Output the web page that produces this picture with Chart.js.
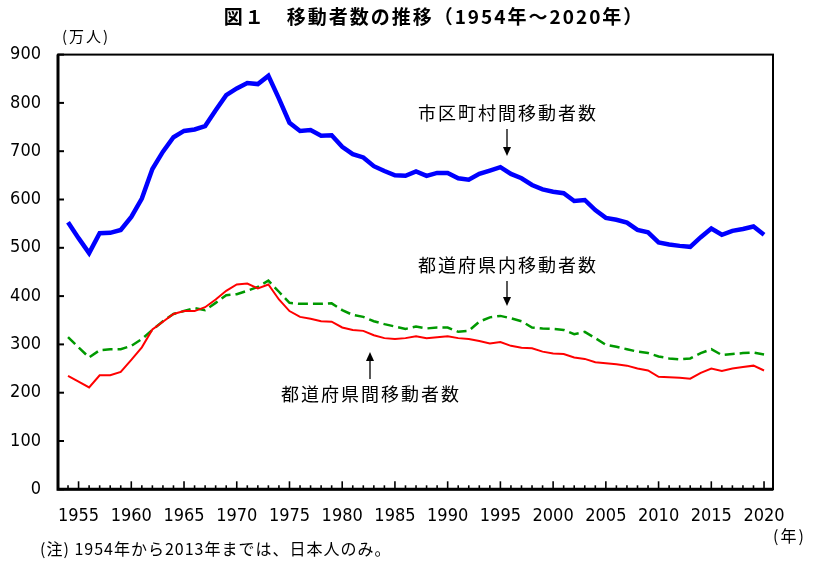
<!DOCTYPE html>
<html><head><meta charset="utf-8">
<script src="https://cdn.jsdelivr.net/npm/chart.js@4"></script>
<style>html,body{margin:0;padding:0;background:#fff}#wrap{width:821px;height:564px}</style>
</head><body><div id="wrap"><canvas id="c" width="821" height="564"></canvas></div>
<script>
const years = [];
for (let y = 1954; y <= 2020; y++) years.push(y);
// 市区町村間移動者数 (万人)
const municipal = [553,520,489,530,531,537,564,602,663,699,729,742,745,752,785,816,830,841,839,856,809,759,742,744,732,733,709,694,687,669,659,650,649,658,649,655,655,644,641,653,660,667,653,644,630,621,616,613,597,599,578,562,558,552,537,532,511,507,504,502,522,540,527,535,539,544,527];
// 都道府県間移動者数
const interPref = [235,223,211,236,236,243,268,294,331,347,363,369,369,377,393,411,424,426,416,424,393,369,357,353,348,347,335,330,328,319,313,311,313,317,313,315,317,313,311,307,302,305,297,293,292,285,281,280,273,270,263,261,259,256,250,246,233,232,231,229,241,250,245,250,253,256,246];
// 都道府県内移動者数
const intraPref = [315,294,273,288,290,290,297,311,330,348,363,369,375,371,386,402,404,411,419,432,409,386,384,384,384,385,371,361,357,348,342,337,332,337,333,335,335,326,328,347,356,359,354,348,335,333,332,330,321,326,313,299,295,290,285,282,275,271,269,271,282,290,278,280,282,283,279];
const yTicks = [0,100,200,300,400,500,600,700,800,900];
const xTickYears = [1955,1960,1965,1970,1975,1980,1985,1990,1995,2000,2005,2010,2015,2020];

const title = '図１　移動者数の推移（1954年～2020年）';
const yUnit = '(万人)';
const xUnit = '(年)';
const note = '(注) 1954年から2013年までは、日本人のみ。';
const lblMunicipal = '市区町村間移動者数';
const lblIntra = '都道府県内移動者数';
const lblInter = '都道府県間移動者数';

const toXY = arr => arr.map((v, i) => ({x: years[i], y: v}));
const JP = '"Noto Sans CJK JP", sans-serif';
const NUM = '"Liberation Sans Narrow", "DejaVu Sans Condensed", sans-serif';

function arrow(ctx, x, y1, y2) {
  const dir = y2 > y1 ? 1 : -1;
  ctx.beginPath(); ctx.moveTo(x, y1); ctx.lineTo(x, y2 - dir * 7); ctx.lineWidth = 1.3; ctx.strokeStyle = '#000'; ctx.stroke();
  ctx.beginPath(); ctx.moveTo(x, y2); ctx.lineTo(x - 4, y2 - dir * 9); ctx.lineTo(x + 4, y2 - dir * 9); ctx.closePath(); ctx.fillStyle = '#000'; ctx.fill();
}

const deco = {
  id: 'deco',
  afterDraw(chart) {
    const ctx = chart.ctx, a = chart.chartArea, xs = chart.scales.x, ys = chart.scales.y;
    ctx.save();
    ctx.strokeStyle = '#000'; ctx.lineWidth = 2;
    ctx.strokeRect(a.left, a.top, a.right - a.left, a.bottom - a.top);
    ctx.lineWidth = 3;
    ctx.beginPath(); ctx.moveTo(a.left, a.top); ctx.lineTo(a.left, a.bottom); ctx.lineTo(a.right, a.bottom); ctx.stroke();
    ctx.lineWidth = 2;
    yTicks.forEach(v => { const y = ys.getPixelForValue(v); ctx.beginPath(); ctx.moveTo(a.left, y); ctx.lineTo(a.left + 6, y); ctx.stroke(); });
    ctx.lineWidth = 1.6;
    years.forEach(yr => { const x = xs.getPixelForValue(yr); const len = yr % 5 === 0 ? 8 : 4; ctx.beginPath(); ctx.moveTo(x, a.bottom); ctx.lineTo(x, a.bottom - len); ctx.stroke(); });
    ctx.fillStyle = '#000'; ctx.textBaseline = 'middle';
    ctx.font = 'bold 19px ' + JP; ctx.textAlign = 'center';
    ctx.letterSpacing = '2px';
    ctx.fillText(title, 434, 17);
    ctx.font = '15px ' + JP; ctx.textAlign = 'left';
    ctx.letterSpacing = '2px';
    ctx.fillText(yUnit, 62, 36);
    ctx.font = '16px ' + JP;
    ctx.fillText(xUnit, 773, 536);
    ctx.letterSpacing = '1px';
    ctx.fillText(note, 40, 549);
    ctx.font = '18px ' + JP; ctx.letterSpacing = '2px';
    ctx.fillText(lblMunicipal, 418, 113);
    ctx.fillText(lblIntra, 418, 265);
    ctx.fillText(lblInter, 281, 394);
    ctx.letterSpacing = '0px';
    arrow(ctx, 507, 129, 156);
    arrow(ctx, 507, 281, 306);
    arrow(ctx, 370, 379, 352);
    ctx.restore();
  }
};

new Chart(document.getElementById('c'), {
  type: 'line',
  data: {
    datasets: [
      {label: lblInter, data: toXY(interPref), borderColor: '#ff0000', borderWidth: 2, pointRadius: 0, tension: 0},
      {label: lblIntra, data: toXY(intraPref), borderColor: '#009900', borderWidth: 2.5, borderDash: [10, 5], pointRadius: 0, tension: 0},
      {label: lblMunicipal, data: toXY(municipal), borderColor: '#0000ff', borderWidth: 4.5, pointRadius: 0, tension: 0}
    ]
  },
  options: {
    responsive: false, animation: false,
    layout: {padding: {left: 0, top: 54.6, right: 48, bottom: 34.7}},
    plugins: {legend: {display: false}, tooltip: {enabled: false}, title: {display: false}},
    scales: {
      x: {
        type: 'linear', min: 1953.05, max: 2020.85,
        afterBuildTicks: s => { s.ticks = xTickYears.map(v => ({value: v})); },
        afterFit: s => { s.height = 40; },
        grid: {display: false}, border: {display: false},
        ticks: {autoSkip: false, maxRotation: 0, padding: 8, color: '#000', font: {family: NUM, size: 18}, callback: v => String(v)}
      },
      y: {
        min: 0, max: 900,
        afterBuildTicks: s => { s.ticks = yTicks.map(v => ({value: v})); },
        afterFit: s => { s.width = 58; },
        grid: {display: false}, border: {display: false},
        ticks: {padding: 9, color: '#000', font: {family: NUM, size: 18}}
      }
    }
  },
  plugins: [deco]
});
</script></body></html>
